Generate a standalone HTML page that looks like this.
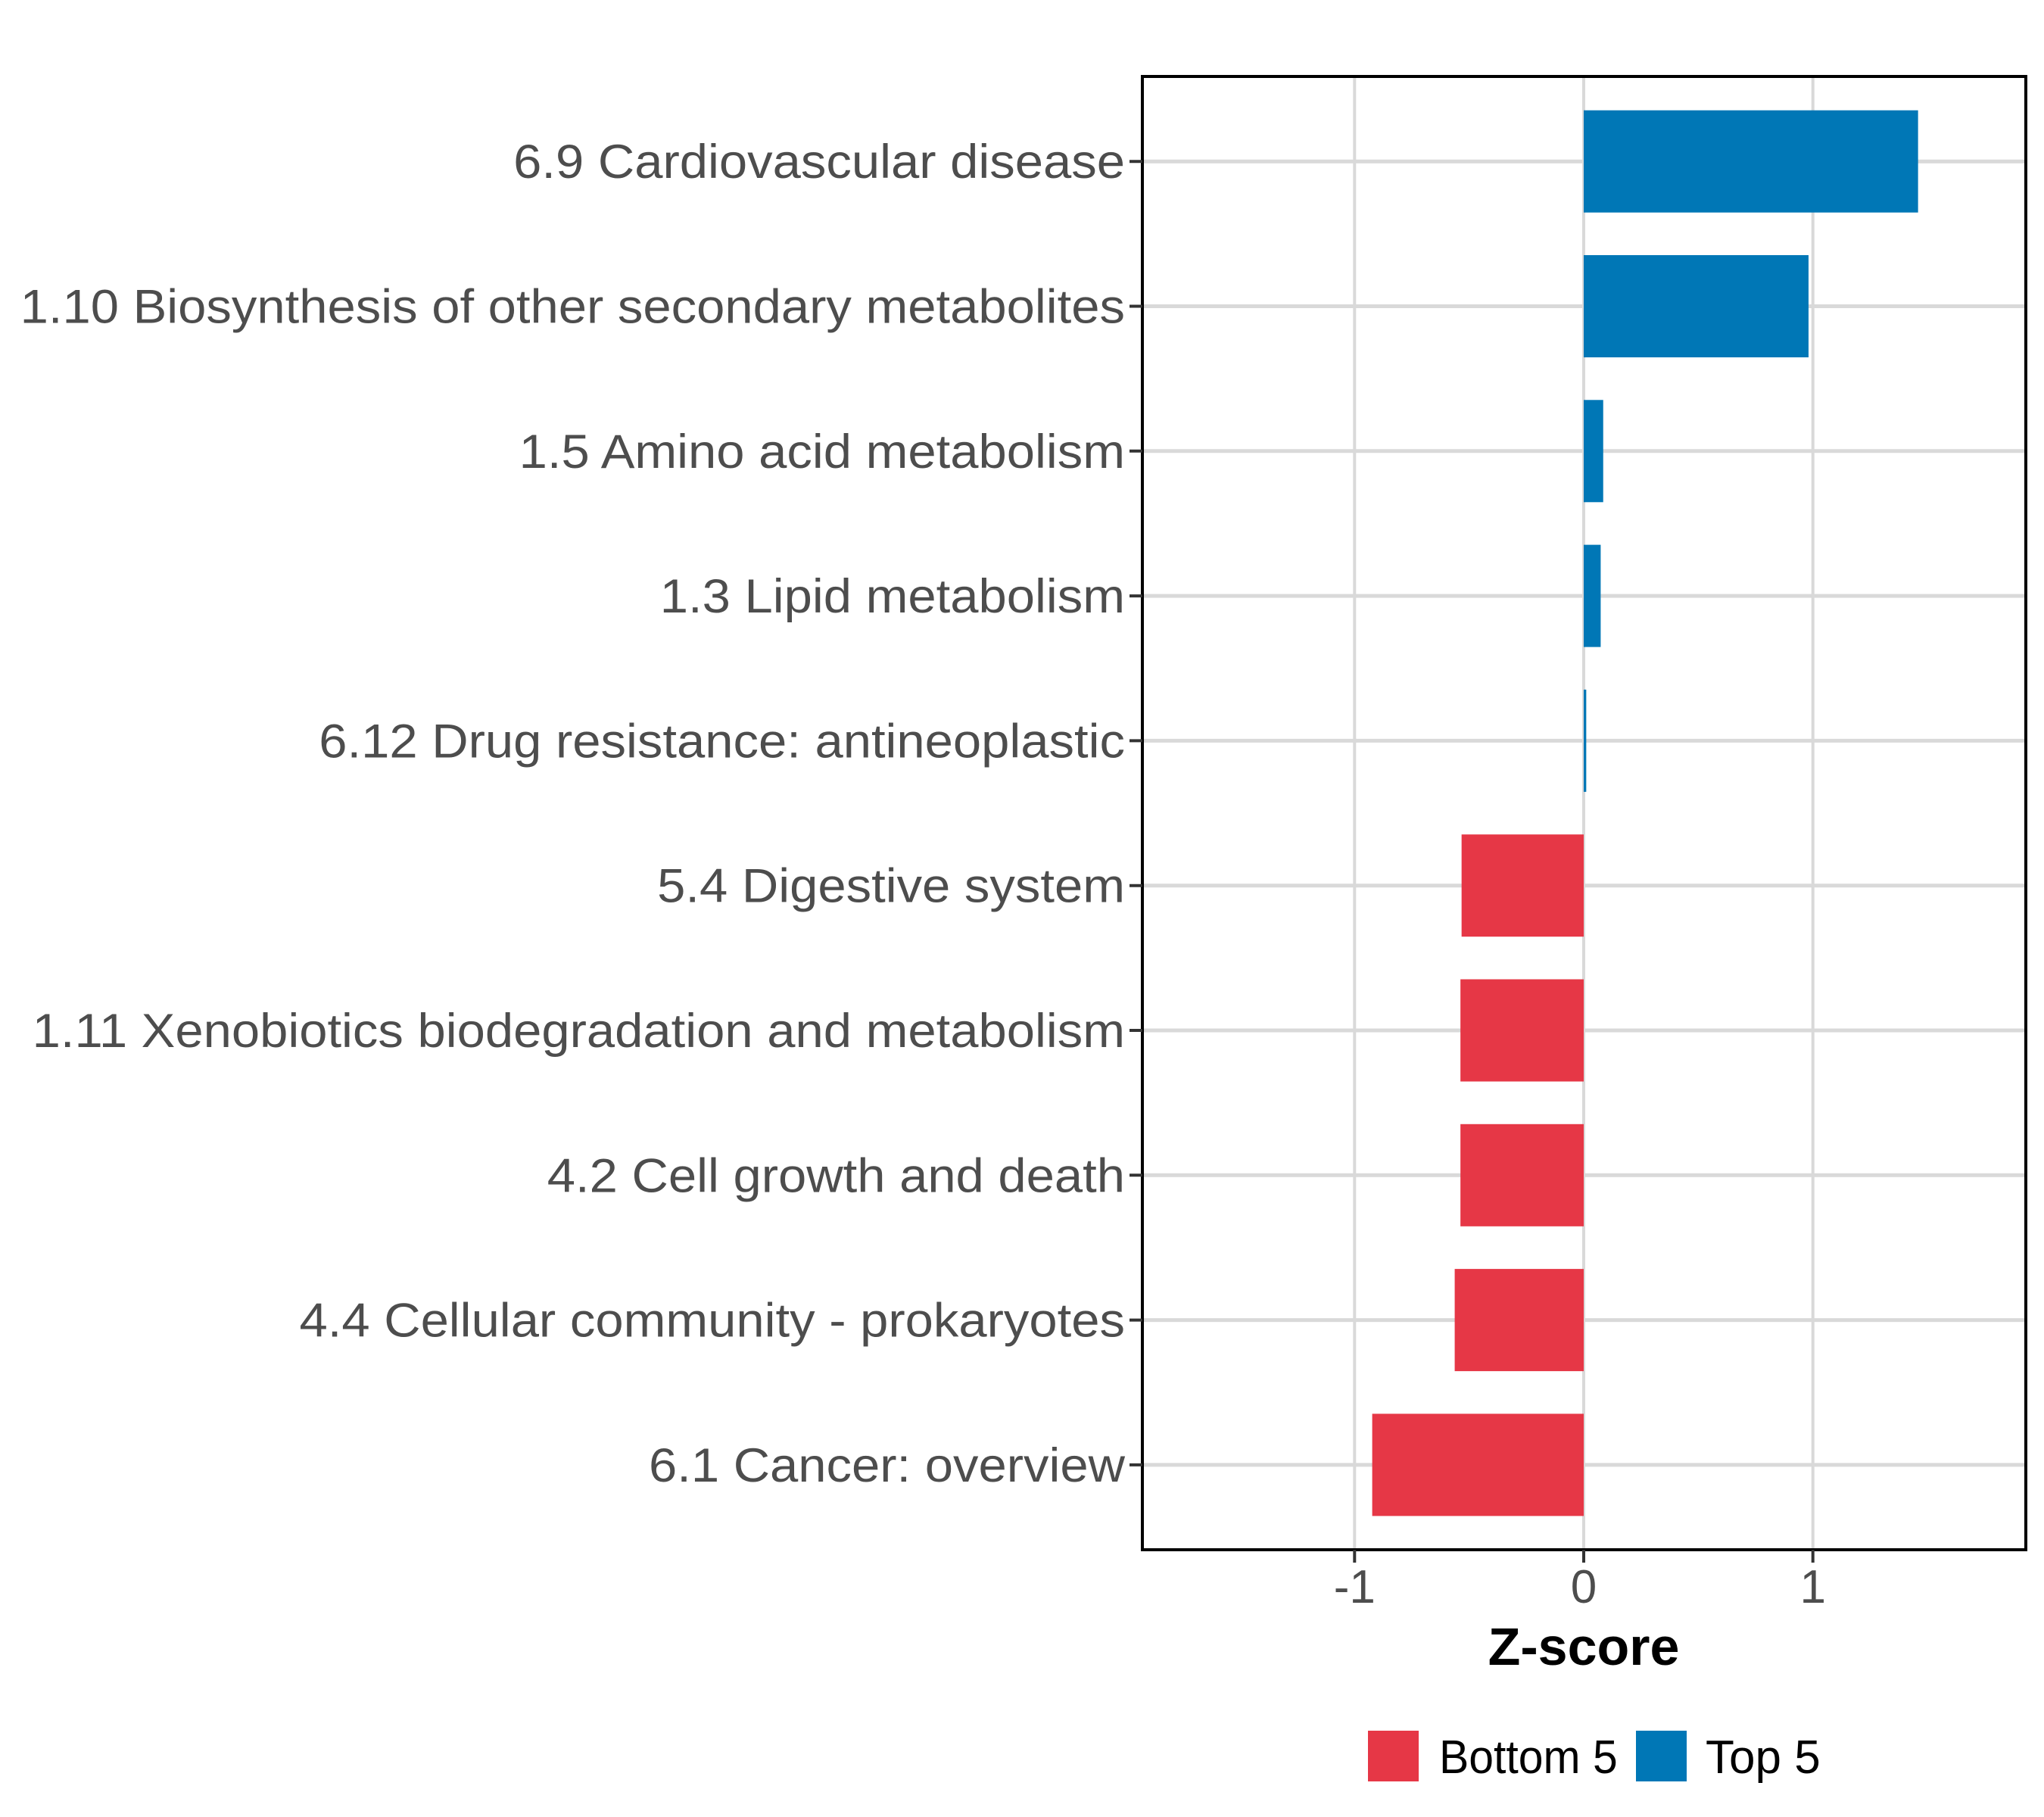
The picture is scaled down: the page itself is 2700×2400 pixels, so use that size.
<!DOCTYPE html>
<html><head><meta charset="utf-8"><style>
html,body{margin:0;padding:0;background:#fff;}
svg{display:block;font-family:"Liberation Sans",Arial,sans-serif;}
</style></head><body>
<svg id="chart" width="2700" height="2400" viewBox="0 0 2700 2400" xmlns="http://www.w3.org/2000/svg">
<g id="grid"></g>
<g id="bars"></g>
<rect x="1509" y="101" width="1167" height="1946" fill="none" stroke="#000" stroke-width="4"/>
<g id="yaxis"></g>
<g id="xaxis"></g>
<text x="2092" y="2199" text-anchor="middle" font-size="70" font-weight="bold" fill="#000">Z-score</text>
<g>
<rect x="1807" y="2286" width="67" height="67" fill="#E63746"/>
<text id="lgb" x="1901" y="2342" font-size="62" fill="#000">Bottom 5</text>
<rect x="2161" y="2286" width="67" height="67" fill="#0077B6"/>
<text x="2253" y="2342" font-size="62" fill="#000">Top 5</text>
</g>
</svg>
<script>
const categories = ["6.9 Cardiovascular disease","1.10 Biosynthesis of other secondary metabolites","1.5 Amino acid metabolism","1.3 Lipid metabolism","6.12 Drug resistance: antineoplastic","5.4 Digestive system","1.11 Xenobiotics biodegradation and metabolism","4.2 Cell growth and death","4.4 Cellular community - prokaryotes","6.1 Cancer: overview"];
const values = [1.459, 0.981, 0.085, 0.074, 0.011, -0.533, -0.538, -0.538, -0.563, -0.923];
const groups = ["Top 5","Top 5","Top 5","Top 5","Top 5","Bottom 5","Bottom 5","Bottom 5","Bottom 5","Bottom 5"];
const xTicks = [-1, 0, 1];
const xTickLabels = ["-1", "0", "1"];

const NS = "http://www.w3.org/2000/svg";
const PL = 1509, PR = 2676, PT = 101, PB = 2047;
const X0 = 2092, UNIT = 302.7;
const xScale = v => X0 + v * UNIT;
const ROW0 = 213.2, STEP = 191.3;
const yScale = i => ROW0 + i * STEP;
const BAR_H = 135;
const colors = {"Top 5": "#0077B6", "Bottom 5": "#E63746"};
function mk(tag, attrs, parent) {
  const el = document.createElementNS(NS, tag);
  for (const k in attrs) el.setAttribute(k, attrs[k]);
  parent.appendChild(el);
  return el;
}
const grid = document.getElementById('grid');
const bars = document.getElementById('bars');
const yaxis = document.getElementById('yaxis');
const xaxis = document.getElementById('xaxis');

xTicks.forEach((t, i) => {
  const x = xScale(t);
  const g = mk('line', {x1: x, x2: x, y1: PT, y2: PB, stroke: '#D9D9D9', 'stroke-width': 4}, grid);
  
  
  const tk = mk('line', {x1: x, x2: x, y1: PB, y2: PB + 17, stroke: '#333', 'stroke-width': 4}, xaxis);
  
  
  const lb = mk('text', {x: x, y: PB + 70, 'text-anchor': 'middle', 'font-size': 62, fill: '#4D4D4D'}, xaxis);
  lb.textContent = xTickLabels[i];
  
  
});

categories.forEach((c, i) => {
  const y = yScale(i);
  const g = mk('line', {x1: PL, x2: PR, y1: y, y2: y, stroke: '#D9D9D9', 'stroke-width': 5}, grid);
  
  
  const v = values[i];
  const x1 = xScale(Math.min(0, v)), x2 = xScale(Math.max(0, v));
  const b = mk('rect', {x: x1, y: y - BAR_H / 2, width: Math.max(x2 - x1, 1), height: BAR_H, fill: colors[groups[i]]}, bars);
  
  
  const tk = mk('line', {x1: PL - 17, x2: PL, y1: y, y2: y, stroke: '#333', 'stroke-width': 4}, yaxis);
  
  
  const lb = mk('text', {x: 1486, y: y + 22, 'text-anchor': 'end', 'font-size': 63, fill: '#4D4D4D'}, yaxis);
  lb.textContent = c;
  
  
  const w = lb.getComputedTextLength();
  lb.setAttribute('textLength', (w * 1.063).toFixed(1));
  lb.setAttribute('lengthAdjust', 'spacingAndGlyphs');
});
const lgb = document.getElementById('lgb');
lgb.setAttribute('textLength', (lgb.getComputedTextLength() * 0.95).toFixed(1));
lgb.setAttribute('lengthAdjust', 'spacingAndGlyphs');
</script>
</body></html>
